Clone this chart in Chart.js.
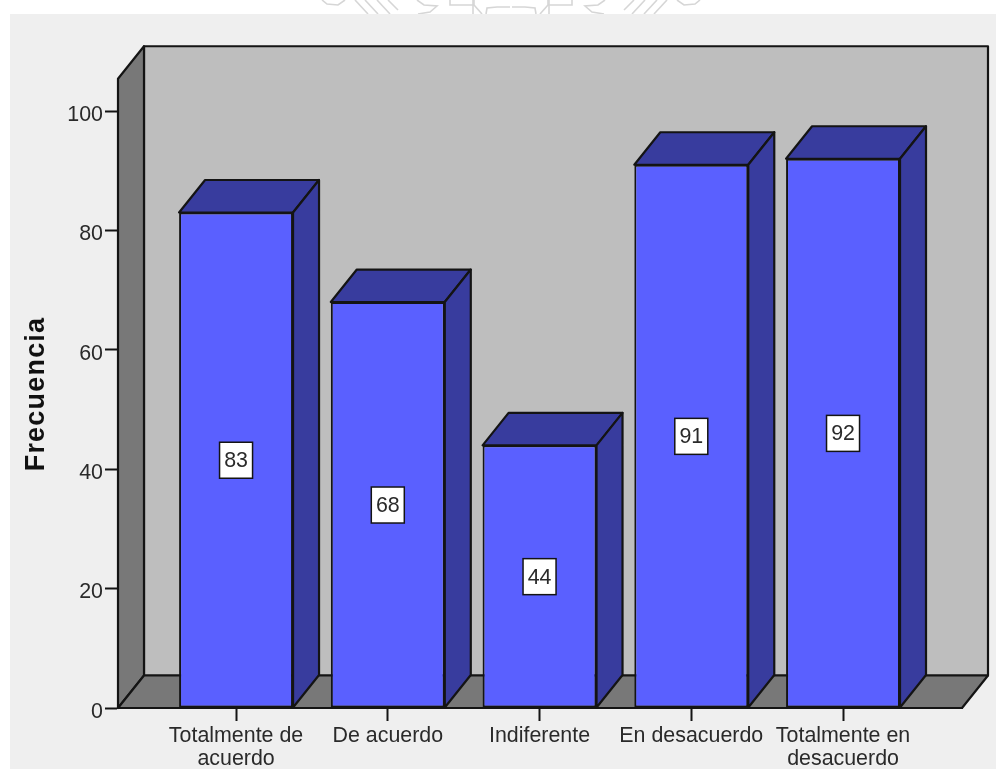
<!DOCTYPE html>
<html lang="es">
<head>
<meta charset="utf-8">
<title>Frecuencia</title>
<style>
  html, body { margin: 0; padding: 0; background: #fff; }
  canvas { display: block; }
</style>
<script src="https://cdn.jsdelivr.net/npm/chart.js@4/dist/chart.umd.min.js"></script>
</head>
<body>
<canvas id="chart" width="996" height="770"></canvas>
<script>
// Response categories, split over the lines they occupy under the axis
const categories = [
  ['Totalmente de', 'acuerdo'],
  ['De acuerdo'],
  ['Indiferente'],
  ['En desacuerdo'],
  ['Totalmente en', 'desacuerdo']
];
const frequencies = [83, 68, 44, 91, 92];
const yTicks = [0, 20, 40, 60, 80, 100];
const yTitle = 'Frecuencia';

const FONT = '"Liberation Sans", Arial, sans-serif';
const INK = '#141414';
const TEXT = '#2a2a2a';
const DEPTH_X = 26;
const DEPTH_Y = 32.5;

function fillPoly(ctx, pts, fill) {
  ctx.beginPath();
  pts.forEach((p, i) => (i ? ctx.lineTo(p[0], p[1]) : ctx.moveTo(p[0], p[1])));
  ctx.closePath();
  ctx.fillStyle = fill;
  ctx.fill();
  ctx.lineWidth = 2.2;
  ctx.lineJoin = 'round';
  ctx.strokeStyle = INK;
  ctx.stroke();
}

// Line-art seal cut off by the top of the panel, symmetrical about its centre
function drawSeal(ctx) {
  const cx = 511;
  const strokes = [
    [[322, 0], [327, 4], [338, 5], [345, 0]],
    [[355, 0], [368, 14]],
    [[365, 0], [378, 14]],
    [[377, 0], [390, 14]],
    [[388, 0], [398, 10]],
    [[417, 0], [424, 5], [437, 6], [430, 12], [418, 14]],
    [[450, 0], [450, 5], [474, 5], [474, 0]],
    [[474, 5], [482, 14]],
    [[486, 14], [487, 8], [497, 7], [510, 7]],
    [[473, 0], [473, 14]]
  ];
  ctx.save();
  ctx.strokeStyle = '#d6d6d6';
  ctx.lineWidth = 1.6;
  [1, -1].forEach(side => {
    strokes.forEach(path => {
      ctx.beginPath();
      path.forEach((p, i) => {
        const x = cx + side * (p[0] - cx);
        if (i) ctx.lineTo(x, p[1]); else ctx.moveTo(x, p[1]);
      });
      ctx.stroke();
    });
  });
  ctx.restore();
}

// Page, panel and the open box (back wall, left wall, floor) behind the bars
const boxPlugin = {
  id: 'box3d',
  beforeDraw(chart) {
    const { ctx, scales: { x, y } } = chart;
    ctx.save();
    ctx.fillStyle = '#ffffff';
    ctx.fillRect(0, 0, chart.width, chart.height);
    drawSeal(ctx);
    ctx.fillStyle = '#efefef';
    ctx.fillRect(10, 14, chart.width - 10, chart.height - 15);

    const left = x.left;
    const right = x.right;
    const floor = y.getPixelForValue(0);
    const top = y.getPixelForValue(105.4);
    fillPoly(ctx, [[left + DEPTH_X, top - DEPTH_Y], [right + DEPTH_X, top - DEPTH_Y],
                   [right + DEPTH_X, floor - DEPTH_Y], [left + DEPTH_X, floor - DEPTH_Y]], '#bebebe');
    fillPoly(ctx, [[left, top], [left + DEPTH_X, top - DEPTH_Y],
                   [left + DEPTH_X, floor - DEPTH_Y], [left, floor]], '#787878');
    fillPoly(ctx, [[left, floor], [left + DEPTH_X, floor - DEPTH_Y],
                   [right + DEPTH_X, floor - DEPTH_Y], [right, floor]], '#787878');

    // Rotated axis title, placed to the left of the tick labels
    ctx.translate(44, 394);
    ctx.rotate(-Math.PI / 2);
    ctx.font = 'bold 27px ' + FONT;
    ctx.letterSpacing = '1.2px';
    ctx.textAlign = 'center';
    ctx.textBaseline = 'alphabetic';
    ctx.fillStyle = '#111111';
    ctx.fillText(yTitle, 0, 0);
    ctx.restore();
  },
  // Top and side faces of each bar, extruded from the bar elements
  beforeDatasetsDraw(chart) {
    const { ctx } = chart;
    ctx.save();
    chart.getDatasetMeta(0).data.forEach(bar => {
      const l = bar.x - bar.width / 2;
      const r = bar.x + bar.width / 2;
      fillPoly(ctx, [[l, bar.y], [l + DEPTH_X, bar.y - DEPTH_Y],
                     [r + DEPTH_X, bar.y - DEPTH_Y], [r, bar.y]], '#383c9e');
      fillPoly(ctx, [[r, bar.y], [r + DEPTH_X, bar.y - DEPTH_Y],
                     [r + DEPTH_X, bar.base - DEPTH_Y], [r, bar.base]], '#383c9e');
    });
    ctx.restore();
  },
  // Boxed value label in the middle of each bar's front face
  afterDatasetsDraw(chart) {
    const { ctx, scales: { y } } = chart;
    ctx.save();
    ctx.font = '21.4px ' + FONT;
    ctx.textAlign = 'center';
    ctx.textBaseline = 'middle';
    chart.getDatasetMeta(0).data.forEach((bar, i) => {
      const cy = y.getPixelForValue(frequencies[i] / 2);
      ctx.fillStyle = '#ffffff';
      ctx.strokeStyle = INK;
      ctx.lineWidth = 1.5;
      ctx.fillRect(bar.x - 16.5, cy - 18, 33, 36);
      ctx.strokeRect(bar.x - 16.5, cy - 18, 33, 36);
      ctx.fillStyle = TEXT;
      ctx.fillText(String(frequencies[i]), bar.x, cy + 1);
    });
    ctx.restore();
  }
};

new Chart(document.getElementById('chart'), {
  type: 'bar',
  data: {
    datasets: [{
      data: frequencies.map((v, i) => ({ x: i, y: v })),
      backgroundColor: '#5a60ff',
      borderColor: INK,
      borderWidth: 2,
      borderSkipped: false,
      categoryPercentage: 0.751,
      barPercentage: 1
    }]
  },
  plugins: [boxPlugin],
  options: {
    responsive: false,
    animation: false,
    events: [],
    layout: { padding: { top: 111, right: 34, left: 0, bottom: 0 } },
    plugins: { legend: { display: false }, tooltip: { enabled: false } },
    scales: {
      x: {
        type: 'linear',
        offset: false,
        min: -0.778,
        max: 4.784,
        afterBuildTicks: s => { s.ticks = categories.map((_, i) => ({ value: i })); },
        afterFit: s => { s.height = 62; },
        grid: { offset: false, drawOnChartArea: false, drawTicks: true, tickLength: 13, tickColor: INK, tickWidth: 2 },
        border: { display: true, color: INK, width: 2 },
        ticks: {
          autoSkip: false,
          maxRotation: 0,
          minRotation: 0,
          padding: 4,
          color: TEXT,
          font: { family: FONT, size: 21.4, lineHeight: 1.075 },
          callback: v => categories[v]
        }
      },
      y: {
        min: 0,
        max: 100,
        afterBuildTicks: s => { s.ticks = yTicks.map(v => ({ value: v })); },
        afterFit: s => { s.width = 118; },
        grid: { drawOnChartArea: false, drawTicks: true, tickLength: 13, tickColor: INK, tickWidth: 2 },
        border: { display: true, color: INK, width: 2 },
        ticks: {
          padding: 2,
          color: TEXT,
          font: { family: FONT, size: 21.4, lineHeight: 0.37 },
          callback: v => ['', String(v)]
        }
      }
    }
  }
});
</script>
</body>
</html>
